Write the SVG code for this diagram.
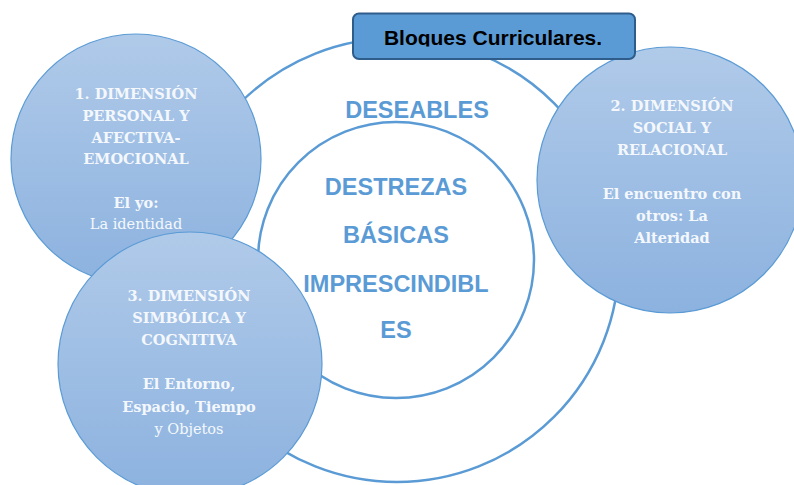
<svg xmlns="http://www.w3.org/2000/svg" width="794" height="485" viewBox="0 0 794 485">
  <defs>
    <linearGradient id="bubble" x1="0" y1="0" x2="0" y2="1">
      <stop offset="0" stop-color="#b0cae9"/>
      <stop offset="1" stop-color="#8cb2df"/>
    </linearGradient>
    <clipPath id="titleClip">
      <rect x="353" y="13" width="282" height="33.5"/>
    </clipPath>
    <style>
      .ring { fill: none; stroke: #5b9bd5; stroke-width: 2.5; }
      .bubble { fill: url(#bubble); stroke: #5b9bd5; stroke-width: 1.2; }
      .core { font-family: "Liberation Sans", Arial, sans-serif; font-weight: bold; font-size: 23.5px; fill: #5b9bd5; text-anchor: middle; }
      .btxt { font-family: "DejaVu Serif", serif; font-size: 14.5px; fill: #f4f8fc; text-anchor: middle; }
      .b { font-weight: bold; }
      .title { font-family: "Liberation Sans", Arial, sans-serif; font-weight: bold; font-size: 21px; fill: #000000; text-anchor: middle; }
    </style>
  </defs>
  <rect width="794" height="485" fill="#ffffff"/>

  <g id="outer-ring">
    <circle class="ring" cx="397" cy="260" r="222"/>
    <text class="core" x="417" y="118" font-size="25">DESEABLES</text>
  </g>

  <g id="inner-ring">
    <circle class="ring" cx="396" cy="260" r="138"/>
    <text class="core" x="396" y="195">DESTREZAS</text>
    <text class="core" x="396" y="243">BÁSICAS</text>
    <text class="core" x="396" y="292">IMPRESCINDIBL</text>
    <text class="core" x="396" y="338">ES</text>
  </g>

  <g id="dimension-1">
    <circle class="bubble" cx="136" cy="159" r="125"/>
    <text class="btxt b" x="136" y="99">1. DIMENSIÓN</text>
    <text class="btxt b" x="136" y="121">PERSONAL Y</text>
    <text class="btxt b" x="136" y="143">AFECTIVA-</text>
    <text class="btxt b" x="136" y="164">EMOCIONAL</text>
    <text class="btxt b" x="136" y="208">El yo:</text>
    <text class="btxt" x="136" y="229">La identidad</text>
  </g>

  <g id="dimension-3">
    <circle class="bubble" cx="190" cy="364" r="132"/>
    <text class="btxt b" x="189" y="301">3. DIMENSIÓN</text>
    <text class="btxt b" x="189" y="323">SIMBÓLICA Y</text>
    <text class="btxt b" x="189" y="345">COGNITIVA</text>
    <text class="btxt b" x="189" y="389">El Entorno,</text>
    <text class="btxt b" x="189" y="412">Espacio, Tiempo</text>
    <text class="btxt" x="189" y="434">y Objetos</text>
  </g>

  <g id="dimension-2">
    <circle class="bubble" cx="670" cy="180" r="133"/>
    <text class="btxt b" x="672" y="111">2. DIMENSIÓN</text>
    <text class="btxt b" x="672" y="133">SOCIAL Y</text>
    <text class="btxt b" x="672" y="155">RELACIONAL</text>
    <text class="btxt b" x="672" y="199">El encuentro con</text>
    <text class="btxt b" x="672" y="221">otros: La</text>
    <text class="btxt b" x="672" y="243">Alteridad</text>
  </g>

  <g id="title-box">
    <rect x="353" y="13.5" width="282" height="45.5" rx="6" ry="6" fill="#5b9bd5" stroke="#2e5d8c" stroke-width="2"/>
    <text class="title" x="493" y="45" clip-path="url(#titleClip)">Bloques Curriculares.</text>
  </g>
</svg>
